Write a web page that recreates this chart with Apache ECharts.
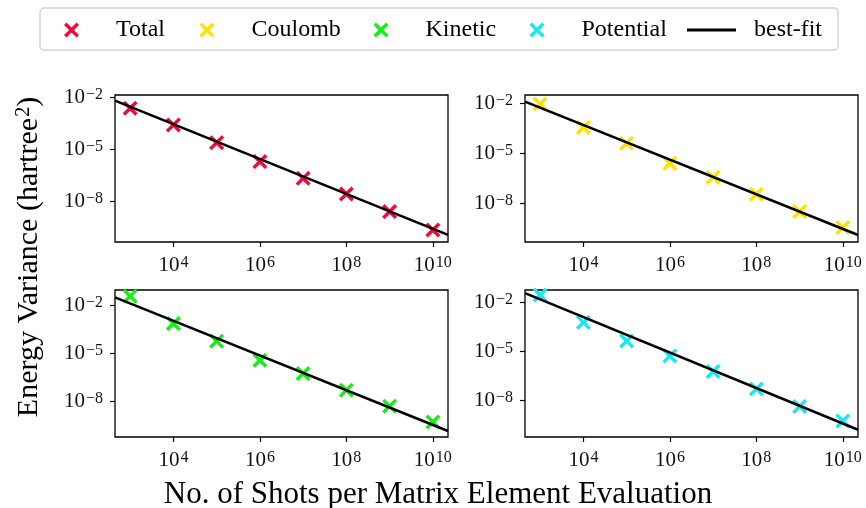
<!DOCTYPE html>
<html>
<head>
<meta charset="utf-8">
<script src="https://cdn.jsdelivr.net/npm/echarts@6/dist/echarts.min.js"></script>
<style>
html,body{margin:0;padding:0;background:#fff;}
#chart{width:866px;height:508px;}
</style>
</head>
<body>
<div id="chart"></div>
<script>
// ---- data ----
var shots = [1e3, 1e4, 1e5, 1e6, 1e7, 1e8, 1e9, 1e10];
var total = [2.34e-3, 2.57e-4, 2.45e-5, 2.0e-6, 2.19e-7, 2.75e-8, 2.69e-9, 2.34e-10];
var coulomb = [9.1e-3, 3.6e-4, 4.0e-5, 2.5e-6, 3.6e-7, 3.5e-8, 3.2e-9, 3.5e-10];
var kinetic = [3.6e-2, 7.1e-4, 5.6e-5, 3.6e-6, 5.4e-7, 4.9e-8, 4.9e-9, 5.1e-10];
var potential = [2.95e-2, 6.3e-4, 4.5e-5, 5.4e-6, 6.0e-7, 5.1e-8, 4.3e-9, 5.6e-10];
// best-fit lines, end points
var fitShots = [4.467e2, 2.239e10];
var fitTotal = [6.38e-3, 1.23e-10];
var fitCoulomb = [1.26e-2, 1.26e-10];
var fitKinetic = [3.02e-2, 1.38e-10];
var fitPotential = [3.89e-2, 1.62e-10];
var seriesNames = ['Total', 'Coulomb', 'Kinetic', 'Potential'];
var fitName = 'best-fit';
var xTickExps = [4, 6, 8, 10];
var yTickExps = [-2, -5, -8];

var colors = ['#f6063b', '#ffe100', '#13f013', '#14e9f7'];
var FONT = 'Liberation Serif';
var XMARK = 'path://M0,1.6 L1.6,0 L5,3.4 L8.4,0 L10,1.6 L6.6,5 L10,8.4 L8.4,10 L5,6.6 L1.6,10 L0,8.4 L3.4,5 Z';

var panelVals = [total, coulomb, kinetic, potential];
var panelFits = [fitTotal, fitCoulomb, fitKinetic, fitPotential];
var grids = [
  {left: 115, top: 95, width: 333, height: 147},
  {left: 525, top: 95, width: 333, height: 147},
  {left: 115, top: 290, width: 333, height: 147},
  {left: 525, top: 290, width: 333, height: 147}
];
var yRanges = [[-10.32, -1.87], [-10.32, -1.5], [-10.23, -1.06], [-10.24, -1.22]];
var xRange = [2.65, 10.35];

function lg(v) { return Math.log10(v); }
function pow10Label(e) { return '{b|10}{s|' + String(e).replace('-', '\u2212') + '}'; }
var richLab = {
  b: {fontFamily: FONT, fontSize: 21, lineHeight: 21, color: '#111', verticalAlign: 'bottom'},
  s: {fontFamily: FONT, fontSize: 16, lineHeight: 16, color: '#111', verticalAlign: 'top', padding: [0, 0, 8, 1]}
};

var xAxes = [], yAxes = [], series = [], gridOpts = [];
for (var i = 0; i < 4; i++) {
  var g = grids[i];
  gridOpts.push({left: g.left, top: g.top, width: g.width, height: g.height, show: true,
    borderColor: '#000', borderWidth: 1.3, backgroundColor: 'transparent', containLabel: false});
  xAxes.push({type: 'value', gridIndex: i, min: xRange[0], max: xRange[1],
    splitLine: {show: false}, axisLine: {show: false},
    axisTick: {show: true, inside: false, length: 5, lineStyle: {color: '#000', width: 1.2}, customValues: xTickExps},
    axisLabel: {show: true, margin: 13, customValues: xTickExps, formatter: function (v) { return pow10Label(Math.round(v)); }, rich: richLab}
  });
  yAxes.push({type: 'value', gridIndex: i, min: yRanges[i][0], max: yRanges[i][1],
    splitLine: {show: false}, axisLine: {show: false},
    axisTick: {show: true, inside: false, length: 5, lineStyle: {color: '#000', width: 1.2}, customValues: yTickExps},
    axisLabel: {show: true, margin: 12, customValues: yTickExps, formatter: function (v) { return pow10Label(Math.round(v)); }, rich: richLab}
  });
  series.push({
    name: seriesNames[i], type: 'scatter', xAxisIndex: i, yAxisIndex: i,
    symbol: XMARK, symbolSize: 15, z: 3,
    itemStyle: {color: colors[i], opacity: 1},
    data: shots.map(function (x, k) { return [lg(x), lg(panelVals[i][k])]; })
  });
  series.push({
    name: fitName, type: 'line', xAxisIndex: i, yAxisIndex: i,
    symbol: 'none', showSymbol: false, z: 4, silent: true, clip: true,
    lineStyle: {color: '#000', width: 2.6},
    itemStyle: {color: '#000'},
    data: fitShots.map(function (x, k) { return [lg(x), lg(panelFits[i][k])]; })
  });
}

var legendLefts = [64, 199.5, 373.5, 529.5, 687];
var legendNames = seriesNames.concat([fitName]);
var legends = legendNames.map(function (n, k) {
  var isLine = (k === 4);
  return {
    data: [isLine ? {name: n, icon: 'rect'} : n],
    left: legendLefts[k], top: 18, orient: 'horizontal', padding: 0,
    itemWidth: isLine ? 49 : 15, itemHeight: isLine ? 2.8 : 15, selectedMode: false,
    formatter: function (name) { return '{g|}{t|' + name + '}'; },
    textStyle: {fontFamily: FONT, fontSize: 24, color: '#000',
      rich: {g: {width: isLine ? 13 : 32}, t: {fontFamily: FONT, fontSize: 24, color: '#000'}}}
  };
});

var option = {
  animation: false,
  backgroundColor: '#fff',
  grid: gridOpts,
  xAxis: xAxes,
  yAxis: yAxes,
  legend: legends,
  series: series,
  graphic: [
    {type: 'rect', shape: {x: 40, y: 8, width: 798, height: 42, r: 4}, z: -1,
      style: {fill: '#fff', stroke: '#d3d3d3', lineWidth: 1.5}},
    {type: 'text', x: 438, y: 495, style: {text: 'No. of Shots per Matrix Element Evaluation', fontFamily: FONT, fontSize: 31, fill: '#000', align: 'center', verticalAlign: 'middle'}},
    {type: 'text', x: 29, y: 257, rotation: Math.PI / 2,
      style: {text: '{n|Energy Variance (hartree}{s|2}{n|)}', align: 'center', verticalAlign: 'middle',
        rich: {n: {fontFamily: FONT, fontSize: 30, lineHeight: 30, fill: '#000', verticalAlign: 'bottom'},
               s: {fontFamily: FONT, fontSize: 20, lineHeight: 20, fill: '#000', verticalAlign: 'top', padding: [0, 0, 12, 1]}}}}
  ]
};
var chart = echarts.init(document.getElementById('chart'), null, {renderer: 'canvas'});
chart.setOption(option);
</script>
</body>
</html>
